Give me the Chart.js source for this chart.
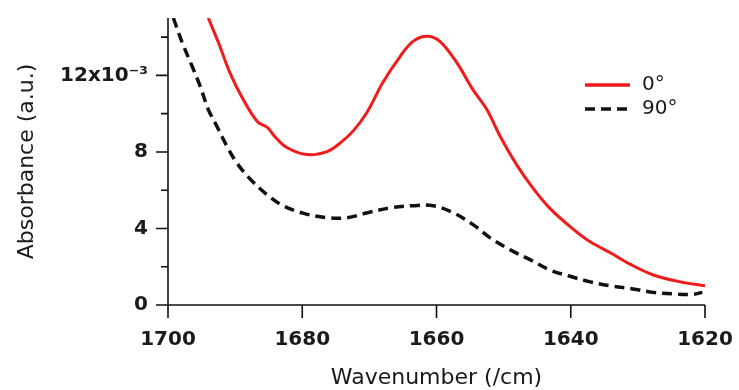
<!DOCTYPE html>
<html>
<head>
<meta charset="utf-8">
<script src="https://cdn.jsdelivr.net/npm/chart.js@4"></script>
<style>
  html, body { margin: 0; padding: 0; background: #fff; }
  #wrap { width: 739px; height: 390px; }
</style>
</head>
<body>
<div id="wrap"><canvas id="absChart"></canvas></div>
<script>
// data
var seriesLabels = ['0°', '90°'];
var wn0 = [1694.0, 1692.5, 1690.8, 1688.8, 1686.7, 1685.2, 1684.1, 1682.3, 1679.3, 1676.3, 1674.4, 1672.4, 1670.3, 1668.0, 1665.4, 1663.5, 1661.4, 1659.5, 1657.0, 1654.6, 1652.5, 1650.5, 1648.0, 1645.6, 1643.1, 1640.1, 1637.1, 1634.1, 1631.1, 1627.7, 1623.7, 1620.0];
var abs0 = [15.0, 13.73, 12.16, 10.74, 9.59, 9.28, 8.81, 8.23, 7.86, 8.02, 8.45, 9.1, 10.1, 11.63, 13.0, 13.78, 14.05, 13.78, 12.68, 11.27, 10.22, 8.81, 7.3, 6.1, 5.05, 4.1, 3.3, 2.73, 2.12, 1.57, 1.21, 1.00];
var wn90 = [1699.2, 1697.9, 1696.4, 1695.2, 1694.0, 1692.7, 1691.2, 1689.7, 1687.8, 1685.2, 1682.9, 1679.9, 1676.3, 1673.3, 1670.3, 1666.9, 1663.5, 1660.5, 1657.5, 1654.5, 1652.0, 1649.0, 1646.0, 1643.1, 1640.1, 1637.1, 1634.1, 1630.7, 1627.7, 1624.7, 1621.8, 1620.4];
var abs90 = [15.0, 13.73, 12.47, 11.43, 10.22, 9.33, 8.28, 7.4, 6.6, 5.75, 5.2, 4.8, 4.56, 4.56, 4.82, 5.08, 5.19, 5.19, 4.82, 4.19, 3.51, 2.88, 2.36, 1.83, 1.5, 1.21, 1.00, 0.84, 0.66, 0.58, 0.56, 0.66];
var xTicks = [1700, 1680, 1660, 1640, 1620];
var yMajor = [0, 4, 8, 12];
var yMinor = [2, 6, 10, 14];

function toPoints(xs, ys) {
  return xs.map(function (x, i) { return { x: x, y: ys[i] }; });
}

var FONT = "'DejaVu Sans', 'Noto Sans CJK JP', sans-serif";
var INK = '#1a1a1a';

// axes, ticks and legend drawn by hand so they look like the original
var framePlugin = {
  id: 'frame',
  afterDraw: function (chart) {
    var ctx = chart.ctx;
    var xs = chart.scales.x, ys = chart.scales.y;
    var x0 = xs.getPixelForValue(1700), y0 = ys.getPixelForValue(0);
    ctx.save();
    ctx.strokeStyle = '#111';
    ctx.lineWidth = 1.6;
    ctx.beginPath();
    ctx.moveTo(x0 - 12, y0); ctx.lineTo(xs.getPixelForValue(1620), y0);
    ctx.moveTo(x0, ys.getPixelForValue(15)); ctx.lineTo(x0, y0 + 8);
    xTicks.forEach(function (v) {
      var px = xs.getPixelForValue(v);
      ctx.moveTo(px, y0); ctx.lineTo(px, y0 + 13);
    });
    yMajor.forEach(function (v) {
      var py = ys.getPixelForValue(v);
      ctx.moveTo(x0, py); ctx.lineTo(x0 - 12, py);
    });
    yMinor.forEach(function (v) {
      var py = ys.getPixelForValue(v);
      ctx.moveTo(x0, py); ctx.lineTo(x0 - 7, py);
    });
    ctx.stroke();

    // legend
    var lx = 585, ly = 85;
    chart.data.datasets.forEach(function (ds, i) {
      var yy = ly + i * 24;
      ctx.beginPath();
      ctx.strokeStyle = ds.borderColor;
      ctx.lineWidth = 3.5;
      ctx.setLineDash(ds.borderDash || []);
      ctx.moveTo(lx, yy); ctx.lineTo(lx + 45, yy);
      ctx.stroke();
      ctx.setLineDash([]);
      ctx.fillStyle = INK;
      ctx.font = '20px ' + FONT;
      ctx.textBaseline = 'middle';
      ctx.fillText(ds.label, lx + 57, yy);
    });
    ctx.restore();
  }
};

var ctx = document.getElementById('absChart').getContext('2d');
var absChart = new Chart(ctx, {
  type: 'line',
  data: {
    datasets: [
      {
        label: seriesLabels[0],
        data: toPoints(wn0, abs0),
        borderColor: '#f21b1b',
        borderWidth: 3,
        pointRadius: 0,
        tension: 0.35,
        fill: false
      },
      {
        label: seriesLabels[1],
        data: toPoints(wn90, abs90),
        borderColor: '#111',
        borderWidth: 3.5,
        borderDash: [10, 6],
        pointRadius: 0,
        tension: 0.35,
        fill: false
      }
    ]
  },
  options: {
    responsive: true,
    maintainAspectRatio: false,
    animation: false,
    layout: { padding: { left: 0, right: 34, top: 18, bottom: 0 } },
    plugins: { legend: { display: false }, tooltip: { enabled: false } },
    scales: {
      x: {
        type: 'linear',
        reverse: true,
        min: 1620,
        max: 1700,
        afterBuildTicks: function (s) { s.ticks = xTicks.map(function (v) { return { value: v }; }); },
        afterFit: function (s) { s.height = 85; s.paddingLeft = 0; s.paddingRight = 0; },
        border: { display: false },
        grid: { drawOnChartArea: false, color: 'rgba(0,0,0,0)', tickLength: 13 },
        ticks: {
          color: INK, font: { family: FONT, size: 20, weight: 'bold' }, padding: 10, maxRotation: 0,
          callback: function (v) { return String(v); }
        },
        title: { display: true, text: 'Wavenumber (/cm)', color: INK, font: { family: FONT, size: 22 }, padding: { top: 0, bottom: -1 } }
      },
      y: {
        min: 0,
        max: 15,
        afterBuildTicks: function (s) { s.ticks = yMajor.map(function (v) { return { value: v }; }); },
        afterFit: function (s) { s.width = 168; s.paddingTop = 0; s.paddingBottom = 0; },
        border: { display: false },
        grid: { drawOnChartArea: false, color: 'rgba(0,0,0,0)', tickLength: 12 },
        ticks: {
          color: INK,
          font: { family: FONT, size: 20, weight: 'bold' },
          padding: 8,
          callback: function (v) { return v === 12 ? '12x10⁻³' : String(v); }
        },
        title: { display: true, text: 'Absorbance (a.u.)', color: INK, font: { family: FONT, size: 22 }, padding: { top: 14, bottom: 0 } }
      }
    }
  },
  plugins: [framePlugin]
});
</script>
</body>
</html>
